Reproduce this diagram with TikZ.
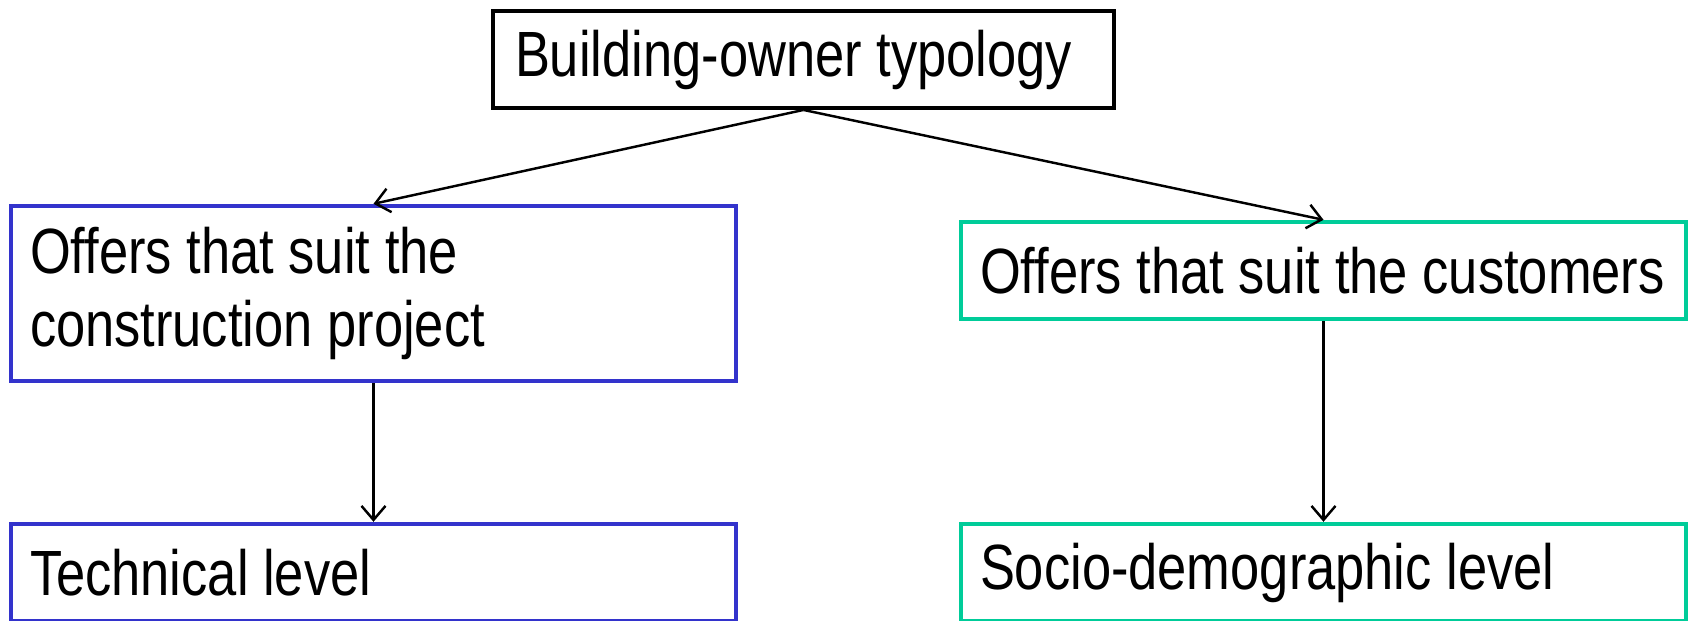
\documentclass[tikz,border=0pt]{standalone}
\usepackage{fontspec}
\setmainfont{Liberation Sans}[FakeStretch=0.82]
\usetikzlibrary{arrows.meta,positioning}
\definecolor{boxblue}{RGB}{51,51,204}
\definecolor{boxgreen}{RGB}{0,204,153}
\hyphenpenalty=10000
\tikzset{
  levelbox/.style={ draw, rectangle, line width=1.25pt, minimum width=7.25cm, text width=6.87cm,
    inner xsep=0.19cm, align=left, font=\fontsize{18.2}{21}\selectfont,
    execute at begin node={\spaceskip=0.23em\relax} }
}
\tikzset{
  rootbox/.style={ levelbox, draw=black, line width=1.1pt, minimum width=6.21cm, text width=5.77cm,
    inner xsep=0.22cm, minimum height=0.97cm }
}
\tikzset{
  techbox/.style={ levelbox, draw=boxblue }
}
\tikzset{
  custbox/.style={ levelbox, draw=boxgreen }
}
\tikzset{
  link/.style={ line width=0.7pt, -{Straight Barb[length=0.14cm, width=0.24cm]} }
}

\begin{document}
\begin{tikzpicture}
  \useasboundingbox (0, 0) rectangle (16.88, -6.20);
  \node[rootbox] (owner) at (8.035, -0.595) {Building-owner typology};
  \node[techbox, minimum height=1.75cm] (offproj) at (3.735, -2.935) {Offers that suit the\\construction project};
  \node[techbox, minimum height=0.97cm] (tech) at (3.735, -5.725) {Technical level};
  \node[custbox, minimum height=0.97cm] (offcust) at (13.235, -2.705) {Offers that suit the customers};
  \node[custbox, minimum height=0.97cm] (socio) at (13.235, -5.725) {Socio-demographic level};
  \draw[link] (owner.south) -- (offproj.north);
  \draw[link] (owner.south) -- (offcust.north);
  \draw[link] (offproj.south) -- (tech.north);
  \draw[link] (offcust.south) -- (socio.north);
\end{tikzpicture}
\end{document}
